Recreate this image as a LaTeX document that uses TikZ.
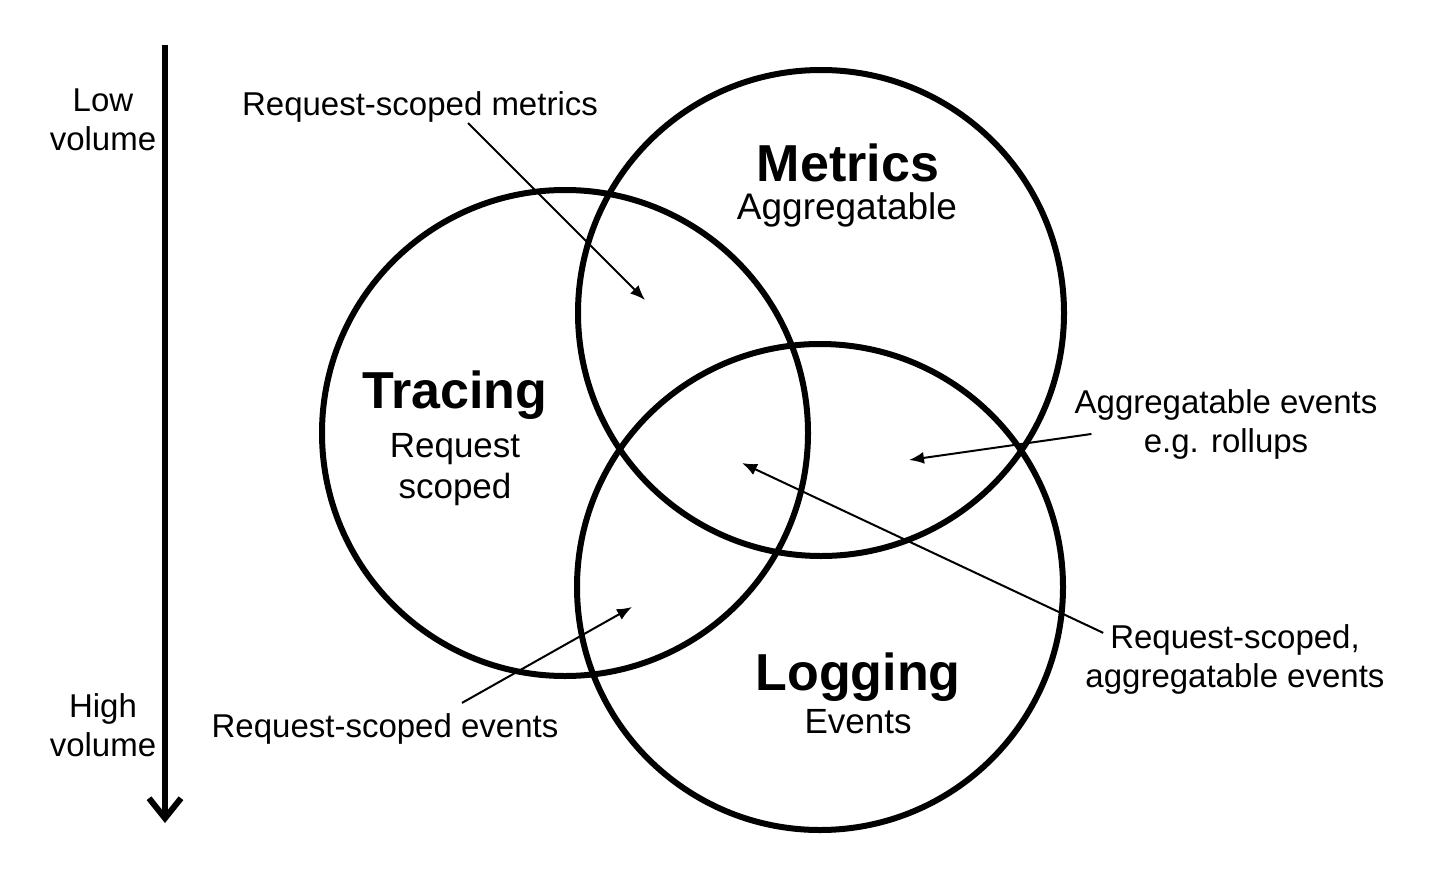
\documentclass[tikz,border=0pt]{standalone}
\usepackage{fontspec}
\setmainfont{Liberation Sans}
\usetikzlibrary{arrows.meta}

\newcommand{\lblfont}{\fontsize{33}{39}\selectfont}
\newcommand{\subfont}{\fontsize{35}{41}\selectfont}
\newcommand{\namefont}{\fontsize{52}{60}\selectfont\bfseries}

\begin{document}
\begin{tikzpicture}[x=1pt, y=-1pt,
  ring/.style={draw, circle, line width=6pt, minimum size=486pt, inner sep=0pt},
  note/.style={align=center, anchor=base, inner sep=0pt, font=\lblfont},
  pointer/.style={line width=2pt, -{Latex[length=15pt,width=12pt]}}]
\useasboundingbox (0,0) rectangle (1456,888);

% volume axis
\coordinate (axtop) at (165,45);
\coordinate (axbot) at (165,823);
\draw[line width=6pt, -{Straight Barb[length=20pt,width=32pt]}] (axtop) -- (axbot);
\node[note] (lowvol) at (103,150) {Low\\volume};
\node[note] (highvol) at (103,756) {High\\volume};

% the three circles
\node[ring] (tracing) at (565,433) {};
\node[ring] (metrics) at (821,313) {};
\node[ring] (logging) at (820,587) {};

\node[note, font=\namefont] (metricsname) at (848,181) {Metrics};
\node[note, font=\fontsize{37}{42}\selectfont] (metricssub) at (847,219) {Aggregatable};
\node[note, font=\namefont] (tracingname) at (455,408) {Tracing};
\node[note, font=\subfont] (tracingsub) at (455,498) {Request\\scoped};
\node[note, font=\namefont] (loggingname) at (858,690) {Logging};
\node[note, font=\subfont] (loggingsub) at (858,733) {Events};

% overlap labels
\node[note] (rsm) at (420,116) {Request-scoped metrics};
\node[note] (agg) at (1226,452) {Aggregatable events\\e.g. rollups};
\node[note] (rsa) at (1235,687) {Request-scoped,\\aggregatable events};
\node[note] (rse) at (385,737) {Request-scoped events};

\coordinate (rsmtip) at (645,300);
\coordinate (aggtip) at (909,460);
\coordinate (rsatip) at (742,463);
\coordinate (rsetip) at (632,607);

\draw[pointer] ([xshift=48pt]rsm.south) -- (rsmtip);
\draw[pointer] ([shift={(17,10)}]agg.west) -- (aggtip);
\draw[pointer] ([shift={(18,9)}]rsa.north west) -- (rsatip);
\draw[pointer] ([shift={(77,-10)}]rse.north) -- (rsetip);
\end{tikzpicture}
\end{document}
